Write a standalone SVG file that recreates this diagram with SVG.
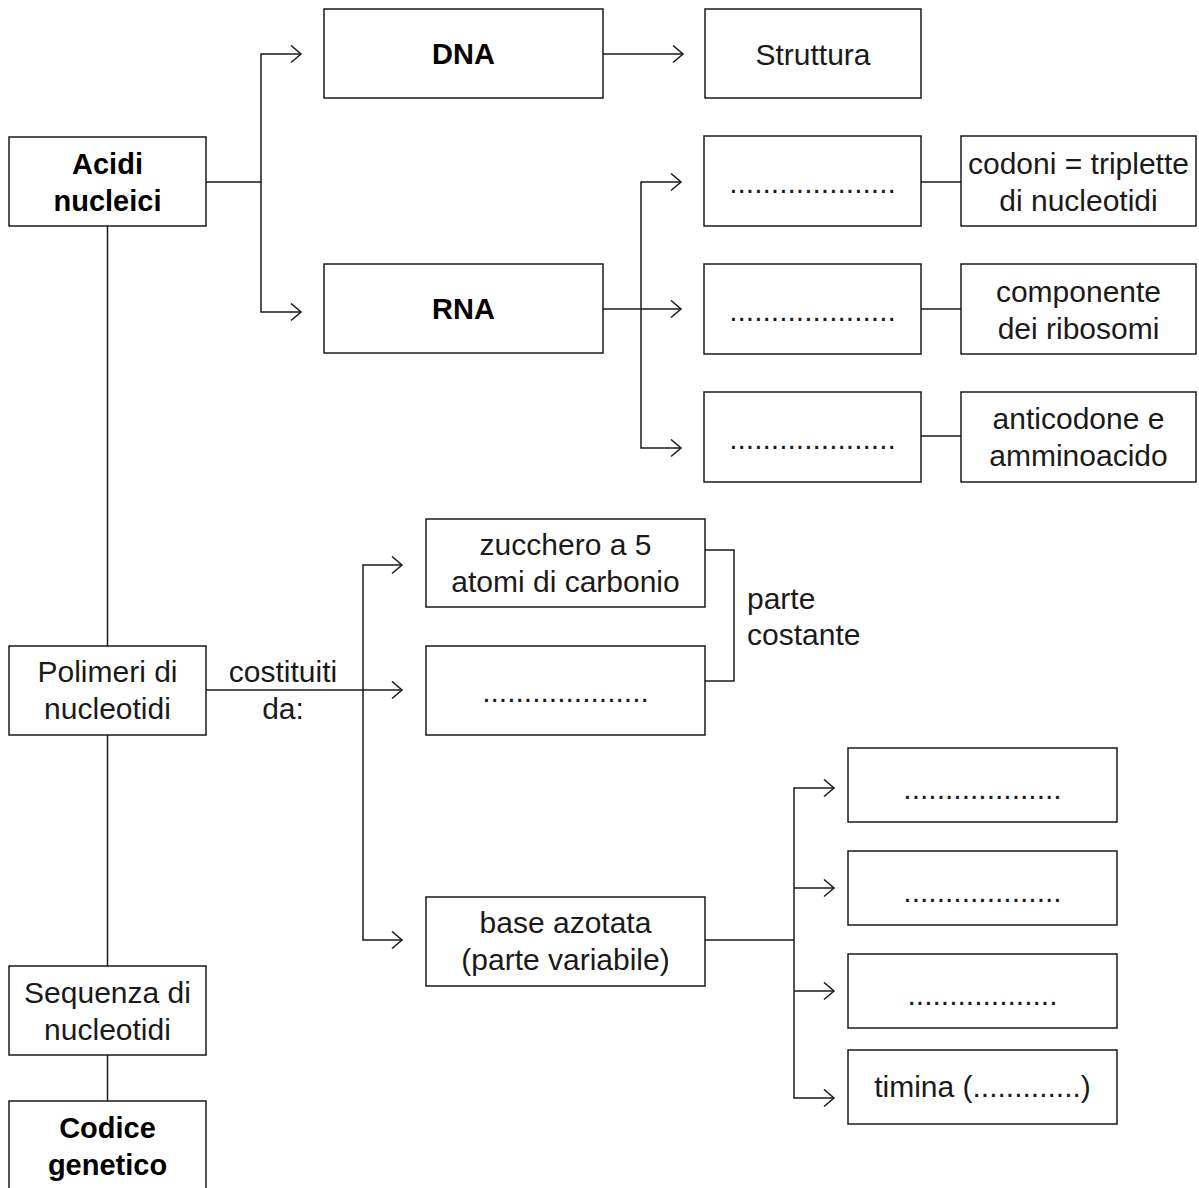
<svg xmlns="http://www.w3.org/2000/svg" width="1199" height="1188" viewBox="0 0 1199 1188">
<defs>
<style>
.box{fill:#fff;stroke:#1a1a1a;stroke-width:1.5}
.ln{fill:none;stroke:#1a1a1a;stroke-width:1.5}
.ar{marker-end:url(#arr)}
text{font-family:"Liberation Sans",Arial,sans-serif;font-size:30px;fill:#1a1a1a;text-anchor:middle}
.b{font-weight:bold;font-size:29px;fill:#000}
.l{text-anchor:start}
</style>
<marker id="arr" markerUnits="userSpaceOnUse" markerWidth="14" markerHeight="20" refX="11" refY="9" orient="auto" viewBox="0 0 14 20">
<path d="M1,0.5 L11,9 L1,17.5" fill="none" stroke="#1a1a1a" stroke-width="1.5"/>
</marker>
</defs>
<rect width="1199" height="1188" fill="#fff"/>
<g id="connectors">
<path class="ln ar" d="M206,182 H261 V54 H301"/>
<path class="ln ar" d="M261,182 V312 H301"/>
<path class="ln ar" d="M603,54 H683"/>
<path class="ln ar" d="M603,309 H681"/>
<path class="ln ar" d="M641,309 V182 H681"/>
<path class="ln ar" d="M641,309 V448 H681"/>
<path class="ln" d="M921,182 H961"/>
<path class="ln" d="M921,309 H961"/>
<path class="ln" d="M921,436 H961"/>
<path class="ln" d="M107.5,226 V646"/>
<path class="ln" d="M107.5,735 V966"/>
<path class="ln" d="M107.5,1055 V1101"/>
<path class="ln ar" d="M206,690 H402"/>
<path class="ln ar" d="M363,690 V565 H402"/>
<path class="ln ar" d="M363,690 V940 H402"/>
<path class="ln" d="M705,550 H734 V681 H705"/>
<path class="ln" d="M705,940 H794"/>
<path class="ln ar" d="M794,940 V788 H834"/>
<path class="ln ar" d="M794,888 H834"/>
<path class="ln ar" d="M794,991 H834"/>
<path class="ln ar" d="M794,940 V1098 H834"/>
</g>
<g id="acidi"><rect class="box" x="9" y="137" width="197" height="89"/><text class="b" x="107.5" y="174">Acidi</text><text class="b" x="107.5" y="211">nucleici</text></g>
<g id="dna"><rect class="box" x="324" y="9" width="279" height="89"/><text class="b" x="463.5" y="64">DNA</text></g>
<g id="struttura"><rect class="box" x="705" y="9" width="216" height="89"/><text x="813" y="65">Struttura</text></g>
<g id="rna"><rect class="box" x="324" y="264" width="279" height="89"/><text class="b" x="463.5" y="319">RNA</text></g>
<g id="rna1"><rect class="box" x="704" y="136" width="217" height="90"/><text x="812.5" y="193">....................</text></g>
<g id="rna2"><rect class="box" x="704" y="264" width="217" height="90"/><text x="812.5" y="321">....................</text></g>
<g id="rna3"><rect class="box" x="704" y="392" width="217" height="90"/><text x="812.5" y="449">....................</text></g>
<g id="codoni"><rect class="box" x="961" y="136" width="235" height="90"/><text x="1078.5" y="174">codoni = triplette</text><text x="1078.5" y="211">di nucleotidi</text></g>
<g id="componente"><rect class="box" x="961" y="264" width="235" height="90"/><text x="1078.5" y="302">componente</text><text x="1078.5" y="339">dei ribosomi</text></g>
<g id="anticodone"><rect class="box" x="961" y="392" width="235" height="90"/><text x="1078.5" y="429">anticodone e</text><text x="1078.5" y="466">amminoacido</text></g>
<g id="polimeri"><rect class="box" x="9" y="646" width="197" height="89"/><text x="107.5" y="682">Polimeri di</text><text x="107.5" y="719">nucleotidi</text></g>
<g id="costituiti-label"><text x="283" y="682">costituiti</text><text x="283" y="719">da:</text></g>
<g id="zucchero"><rect class="box" x="426" y="519" width="279" height="88"/><text x="565.5" y="555">zucchero a 5</text><text x="565.5" y="592">atomi di carbonio</text></g>
<g id="fosfato"><rect class="box" x="426" y="646" width="279" height="89"/><text x="565.5" y="702">....................</text></g>
<g id="parte-costante"><text class="l" x="747" y="609">parte</text><text class="l" x="747" y="645">costante</text></g>
<g id="base"><rect class="box" x="426" y="897" width="279" height="89"/><text x="565.5" y="933">base azotata</text><text x="565.5" y="970">(parte variabile)</text></g>
<g id="base1"><rect class="box" x="848" y="748" width="269" height="74"/><text x="982.5" y="799">...................</text></g>
<g id="base2"><rect class="box" x="848" y="851" width="269" height="74"/><text x="982.5" y="902">...................</text></g>
<g id="base3"><rect class="box" x="848" y="954" width="269" height="74"/><text x="982.5" y="1005">..................</text></g>
<g id="timina"><rect class="box" x="848" y="1050" width="269" height="74"/><text x="982.5" y="1097">timina (.............)</text></g>
<g id="sequenza"><rect class="box" x="9" y="966" width="197" height="89"/><text x="107.5" y="1003">Sequenza di</text><text x="107.5" y="1040">nucleotidi</text></g>
<g id="codice"><rect class="box" x="9" y="1101" width="197" height="100"/><text class="b" x="107.5" y="1138">Codice</text><text class="b" x="107.5" y="1175">genetico</text></g>
</svg>
